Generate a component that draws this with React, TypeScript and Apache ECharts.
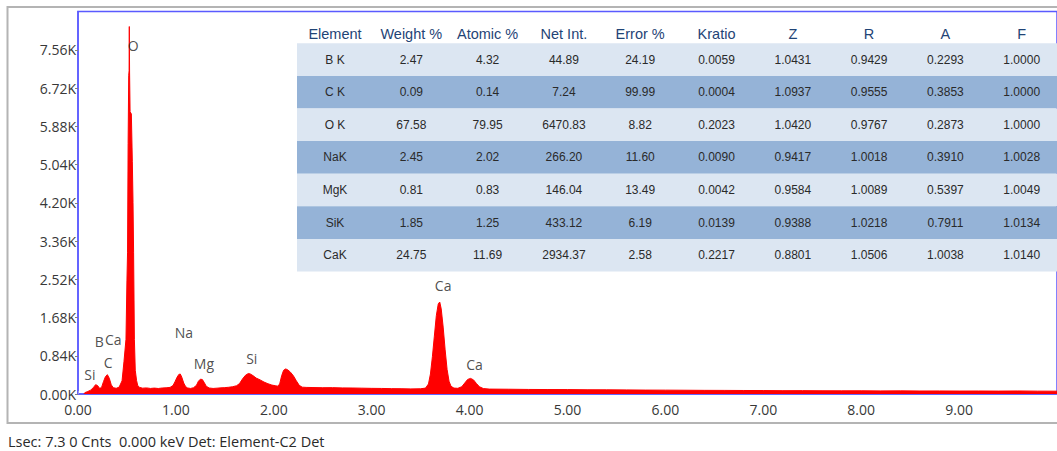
import React, { useEffect, useRef } from "react";
import * as echarts from "echarts";

// EDS spectrum: energy (keV) vs counts
const spectrum: [number, number][] = [
  [0.06, 0], [0.07, 30], [0.1, 55], [0.13, 85], [0.16, 150], [0.18, 205], [0.2, 185],
  [0.22, 125], [0.24, 140], [0.26, 270], [0.28, 380], [0.3, 425], [0.32, 345], [0.34, 200],
  [0.36, 140], [0.39, 125], [0.42, 150], [0.45, 290], [0.47, 720], [0.49, 1200], [0.5, 2500],
  [0.506, 3100], [0.512, 5500], [0.518, 7000], [0.522, 7100], [0.524, 8070], [0.527, 7050],
  [0.532, 6200], [0.545, 6150], [0.555, 5100], [0.562, 4200], [0.568, 3100], [0.576, 1200],
  [0.585, 520], [0.598, 300], [0.61, 185], [0.63, 145], [0.66, 128], [0.7, 134], [0.74, 122],
  [0.78, 130], [0.82, 121], [0.86, 132], [0.9, 136], [0.94, 145], [0.97, 185], [0.99, 265],
  [1.01, 360], [1.03, 430], [1.045, 438], [1.06, 370], [1.08, 240], [1.1, 160], [1.12, 132],
  [1.15, 122], [1.18, 138], [1.21, 190], [1.23, 280], [1.25, 325], [1.27, 318], [1.29, 250],
  [1.31, 170], [1.34, 132], [1.38, 122], [1.42, 128], [1.46, 135], [1.5, 140], [1.54, 148],
  [1.58, 160], [1.62, 182], [1.65, 230], [1.68, 330], [1.71, 410], [1.74, 450], [1.76, 440],
  [1.79, 400], [1.82, 350], [1.86, 310], [1.9, 262], [1.94, 226], [1.98, 196], [2.02, 180],
  [2.04, 172], [2.06, 220], [2.08, 400], [2.1, 520], [2.12, 550], [2.14, 535], [2.17, 480],
  [2.2, 400], [2.23, 290], [2.26, 190], [2.29, 150], [2.33, 145], [2.4, 142], [2.5, 138],
  [2.6, 140], [2.7, 134], [2.8, 132], [2.9, 128], [3.0, 124], [3.1, 122], [3.2, 118],
  [3.3, 116], [3.4, 112], [3.5, 115], [3.55, 130], [3.58, 220], [3.6, 440], [3.62, 820],
  [3.64, 1270], [3.66, 1720], [3.68, 1980], [3.695, 2020], [3.71, 1870], [3.73, 1470],
  [3.75, 970], [3.77, 540], [3.79, 280], [3.81, 170], [3.84, 130], [3.88, 125], [3.92, 160],
  [3.95, 240], [3.98, 320], [4.01, 343], [4.04, 310], [4.07, 230], [4.1, 160], [4.14, 120],
  [4.2, 108], [4.4, 105], [4.6, 100], [4.8, 98], [5.0, 97], [5.2, 93], [5.4, 92], [5.6, 90],
  [5.8, 86], [6.0, 85], [6.2, 83], [6.4, 80], [6.6, 79], [6.8, 77], [7.0, 76], [7.2, 73],
  [7.4, 74], [7.6, 71], [7.8, 70], [8.0, 71], [8.2, 68], [8.4, 69], [8.6, 66], [8.8, 67],
  [9.0, 65], [9.2, 66], [9.4, 64], [9.6, 67], [9.8, 63], [10.0, 62],
];

// Element markers: [keV, counts, symbol]
const peakLabels: [number, number, string][] = [
  [0.563, 7650, "O"],
  [0.122, 420, "Si"],
  [0.217, 1150, "B"],
  [0.36, 1190, "Ca"],
  [0.308, 690, "C"],
  [1.082, 1360, "Na"],
  [1.286, 675, "Mg"],
  [1.775, 785, "Si"],
  [3.73, 2380, "Ca"],
  [4.05, 655, "Ca"],
];

// Quantification table
const tableHeaders = ["Element", "Weight %", "Atomic %", "Net Int.", "Error %", "Kratio", "Z", "R", "A", "F"];
const elements = ["B K", "C K", "O K", "NaK", "MgK", "SiK", "CaK"];
const weightPct = ["2.47", "0.09", "67.58", "2.45", "0.81", "1.85", "24.75"];
const atomicPct = ["4.32", "0.14", "79.95", "2.02", "0.83", "1.25", "11.69"];
const netInt = ["44.89", "7.24", "6470.83", "266.20", "146.04", "433.12", "2934.37"];
const errorPct = ["24.19", "99.99", "8.82", "11.60", "13.49", "6.19", "2.58"];
const kratio = ["0.0059", "0.0004", "0.2023", "0.0090", "0.0042", "0.0139", "0.2217"];
const zFactor = ["1.0431", "1.0937", "1.0420", "0.9417", "0.9584", "0.9388", "0.8801"];
const rFactor = ["0.9429", "0.9555", "0.9767", "1.0018", "1.0089", "1.0218", "1.0506"];
const aFactor = ["0.2293", "0.3853", "0.2873", "0.3910", "0.5397", "0.7911", "1.0038"];
const fFactor = ["1.0000", "1.0000", "1.0000", "1.0028", "1.0049", "1.0134", "1.0140"];

const statusLine = "Lsec: 7.3 0 Cnts  0.000 keV Det: Element-C2 Det";

const Y_MAX = 8400;
const Y_STEP = 840;
const X_MAX = 10;

function buildTable() {
  const columns = [elements, weightPct, atomicPct, netInt, errorPct, kratio, zFactor, rFactor, aFactor, fFactor];
  const left = 297;
  const top = 43.3;
  const rowH = 32.6;
  const col0 = 335;
  const colStep = 76.3;
  const children: any[] = [];
  elements.forEach((_, i) => {
    children.push({
      type: "rect",
      shape: { x: left, y: top + i * rowH, width: 800, height: rowH },
      style: { fill: i % 2 === 0 ? "#dce6f2" : "#95b3d7" },
    });
  });
  tableHeaders.forEach((h, c) => {
    children.push({
      type: "text",
      x: col0 + c * colStep,
      y: 34,
      style: {
        text: h,
        fill: "#1f4476",
        font: '14.5px "Liberation Sans", Arial, sans-serif',
        textAlign: "center",
        textVerticalAlign: "middle",
        align: "center",
        verticalAlign: "middle",
      },
    });
  });
  columns.forEach((col, c) => {
    col.forEach((v, i) => {
      children.push({
        type: "text",
        x: col0 + c * colStep,
        y: top + i * rowH + rowH / 2,
        style: {
          text: v,
          fill: "#2a2a2a",
          font: '12px "Liberation Sans", Arial, sans-serif',
          textAlign: "center",
          textVerticalAlign: "middle",
          align: "center",
          verticalAlign: "middle",
        },
      });
    });
  });
  return { type: "group", z: 20, children };
}

export default function App() {
  const ref = useRef<HTMLDivElement>(null);

  useEffect(() => {
    if (!ref.current) return;
    const chart = echarts.init(ref.current, null, { renderer: "svg" });
    const axisFont = { fontFamily: '"Open Sans", sans-serif', fontSize: 14, color: "#383838" };
    chart.setOption({
      animation: false,
      backgroundColor: "#ffffff",
      grid: {
        left: 78,
        top: 11.5,
        width: 982,
        height: 382.5,
        show: true,
        borderColor: "#5a5aff",
        borderWidth: 1.5,
        backgroundColor: "transparent",
      },
      xAxis: {
        type: "value",
        min: 0,
        max: X_MAX,
        interval: 1,
        splitLine: { show: false },
        axisLine: { show: true, lineStyle: { color: "#5a5aff", width: 1.5 } },
        axisTick: { show: true, length: 3, inside: true, lineStyle: { color: "#9a9af0" } },
        axisLabel: {
          ...axisFont,
          margin: 8,
          showMaxLabel: false,
          formatter: (v: number) => v.toFixed(2),
        },
      },
      yAxis: {
        type: "value",
        min: 0,
        max: Y_MAX,
        interval: Y_STEP,
        splitLine: { show: false },
        axisLine: { show: true, lineStyle: { color: "#5a5aff", width: 1.5 } },
        axisTick: { show: true, length: 3, lineStyle: { color: "#808080" } },
        axisLabel: {
          ...axisFont,
          margin: 2,
          showMaxLabel: false,
          formatter: (v: number) => (v / 1000).toFixed(2) + "K",
        },
      },
      series: [
        {
          type: "line",
          data: spectrum,
          symbol: "none",
          lineStyle: { color: "#ff0000", width: 1 },
          areaStyle: { color: "#ff0000", opacity: 1 },
          z: 3,
        },
        {
          type: "scatter",
          data: peakLabels,
          symbolSize: 1,
          itemStyle: { color: "rgba(0,0,0,0)" },
          label: {
            show: true,
            position: "inside",
            formatter: (p: any) => p.data[2],
            fontFamily: '"Open Sans", sans-serif',
            fontSize: 14,
            color: "#222222",
          },
          z: 4,
        },
      ],
      graphic: [
        {
          type: "rect",
          z: 0,
          silent: true,
          shape: { x: 7.5, y: 7, width: 1100, height: 416 },
          style: { fill: "none", stroke: "#b4b4b4", lineWidth: 2 },
        },
        buildTable(),
        {
          type: "text",
          x: 8,
          y: 441,
          style: {
            text: statusLine,
            fill: "#2a2a2a",
            font: '14.5px "Open Sans", sans-serif',
            textAlign: "left",
            textVerticalAlign: "middle",
            align: "left",
            verticalAlign: "middle",
          },
        },
      ],
    });
    return () => chart.dispose();
  }, []);

  return (
    <div
      ref={ref}
      style={{ position: "absolute", left: 0, top: 0, width: 1057, height: 451, overflow: "hidden" }}
    />
  );
}
